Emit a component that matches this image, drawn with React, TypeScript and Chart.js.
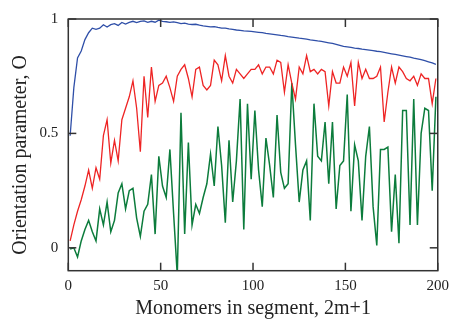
import React, { useEffect, useRef } from "react";
import { Chart, registerables } from "chart.js";

Chart.register(...registerables);

// x values: odd segment lengths 2m+1
const monomers = [
  1, 3, 5, 7, 9, 11, 13, 15, 17, 19, 21, 23, 25, 27, 29, 31, 33, 35, 37, 39, 41, 43, 45, 47, 49,
  51, 53, 55, 57, 59, 61, 63, 65, 67, 69, 71, 73, 75, 77, 79, 81, 83, 85, 87, 89, 91, 93, 95, 97, 99,
  101, 103, 105, 107, 109, 111, 113, 115, 117, 119, 121, 123, 125, 127, 129, 131, 133, 135, 137, 139, 141, 143, 145, 147, 149,
  151, 153, 155, 157, 159, 161, 163, 165, 167, 169, 171, 173, 175, 177, 179, 181, 183, 185, 187, 189, 191, 193, 195, 197, 199,
];

const blueValues = [
  0.49, 0.70, 0.83, 0.86, 0.91, 0.94, 0.96, 0.955, 0.96, 0.975, 0.965, 0.975, 0.98, 0.972, 0.985, 0.978, 0.985, 0.99, 0.984, 0.99, 0.992, 0.985, 0.99, 0.986, 0.995,
  0.99, 0.988, 0.985, 0.987, 0.984, 0.98, 0.982, 0.978, 0.976, 0.977, 0.973, 0.970, 0.968, 0.966, 0.967, 0.963, 0.960, 0.960, 0.957, 0.955, 0.952, 0.950, 0.948, 0.947, 0.946,
  0.944, 0.942, 0.940, 0.937, 0.935, 0.933, 0.931, 0.928, 0.926, 0.923, 0.921, 0.919, 0.916, 0.914, 0.912, 0.909, 0.907, 0.904, 0.902, 0.899, 0.896, 0.893, 0.889, 0.885, 0.880,
  0.878, 0.876, 0.873, 0.871, 0.868, 0.866, 0.864, 0.862, 0.859, 0.857, 0.854, 0.851, 0.848, 0.845, 0.842, 0.839, 0.836, 0.833, 0.829, 0.826, 0.822, 0.818, 0.813, 0.808, 0.802,
];

const redValues = [
  0.03, 0.10, 0.16, 0.21, 0.27, 0.34, 0.26, 0.35, 0.30, 0.49, 0.56, 0.37, 0.47, 0.38, 0.56, 0.61, 0.66, 0.73, 0.61, 0.42, 0.75, 0.57, 0.79, 0.64, 0.71,
  0.72, 0.75, 0.70, 0.64, 0.75, 0.78, 0.80, 0.74, 0.66, 0.78, 0.79, 0.71, 0.69, 0.71, 0.82, 0.80, 0.73, 0.84, 0.75, 0.72, 0.78, 0.76, 0.74, 0.76, 0.78,
  0.78, 0.80, 0.76, 0.79, 0.79, 0.76, 0.82, 0.81, 0.68, 0.80, 0.72, 0.65, 0.79, 0.76, 0.84, 0.77, 0.78, 0.76, 0.78, 0.77, 0.62, 0.77, 0.72, 0.72, 0.79,
  0.75, 0.81, 0.62, 0.81, 0.74, 0.78, 0.74, 0.74, 0.75, 0.79, 0.55, 0.68, 0.79, 0.72, 0.79, 0.77, 0.74, 0.73, 0.75, 0.71, 0.76, 0.74, 0.74, 0.63, 0.74,
];

const greenValues = [
  -0.005, 0.0, -0.04, 0.03, 0.08, 0.12, 0.07, 0.03, 0.17, 0.10, 0.20, 0.07, 0.12, 0.24, 0.28, 0.17, 0.25, 0.26, 0.13, 0.05, 0.16, 0.19, 0.32, 0.06, 0.40,
  0.27, 0.22, 0.43, 0.15, -0.12, 0.59, 0.06, 0.46, 0.10, 0.19, 0.15, 0.22, 0.28, 0.41, 0.27, 0.53, 0.36, 0.11, 0.47, 0.20, 0.38, 0.65, 0.08, 0.63, 0.30,
  0.60, 0.34, 0.18, 0.48, 0.36, 0.22, 0.58, 0.33, 0.26, 0.28, 0.72, 0.45, 0.20, 0.34, 0.38, 0.12, 0.63, 0.40, 0.38, 0.55, 0.28, 0.55, 0.17, 0.36, 0.38,
  0.67, 0.16, 0.45, 0.38, 0.12, 0.40, 0.53, 0.18, 0.01, 0.43, 0.43, 0.44, 0.07, 0.32, 0.02, 0.60, 0.60, 0.10, 0.65, 0.10, 0.50, 0.61, 0.60, 0.25, 0.66,
];

const xTickValues = [0, 50, 100, 150, 200];
const yTickValues = [0, 0.5, 1];
const xTitle = "Monomers in segment, 2m+1";
const yTitle = "Orientation parameter, O";

const FONT = '"Liberation Serif", "Times New Roman", serif';

const framePlugin = {
  id: "frame",
  afterDatasetsDraw(chart: any) {
    const { ctx, chartArea, scales } = chart;
    const { left, right, top, bottom } = chartArea;
    const x = scales.x;
    const y = scales.y;
    ctx.save();
    ctx.strokeStyle = "#333";
    ctx.lineWidth = 1.5;
    ctx.strokeRect(left, top, right - left, bottom - top);
    const seg = (a: number, b: number, c: number, d: number) => {
      ctx.beginPath();
      ctx.moveTo(a, b);
      ctx.lineTo(c, d);
      ctx.stroke();
    };
    const tl = 8;
    xTickValues.forEach((v) => {
      const px = x.getPixelForValue(v);
      seg(px, bottom, px, bottom - tl);
      seg(px, top, px, top + tl);
    });
    yTickValues.forEach((v) => {
      const py = y.getPixelForValue(v);
      seg(left, py, left + tl, py);
      seg(right, py, right - tl, py);
    });
    ctx.fillStyle = "#222";
    ctx.font = "20px " + FONT;
    ctx.textAlign = "center";
    ctx.textBaseline = "middle";
    ctx.fillText(xTitle, (left + right) / 2, bottom + 38);
    ctx.translate(left - 48, (top + bottom) / 2 + 10);
    ctx.rotate(-Math.PI / 2);
    ctx.fillText(yTitle, 0, 0);
    ctx.restore();
  },
};

export default function App() {
  const canvasRef = useRef<HTMLCanvasElement | null>(null);

  useEffect(() => {
    if (!canvasRef.current) return;
    const mk = (vals: number[]) => monomers.map((m, i) => ({ x: m, y: vals[i] }));
    const chart = new Chart(canvasRef.current, {
      type: "line",
      data: {
        datasets: [
          { data: mk(blueValues), borderColor: "#2f4fa8", borderWidth: 1.3, pointRadius: 0, tension: 0, fill: false },
          { data: mk(redValues), borderColor: "#ee2424", borderWidth: 1.3, pointRadius: 0, tension: 0, fill: false },
          { data: mk(greenValues), borderColor: "#0c7c3c", borderWidth: 1.5, pointRadius: 0, tension: 0, fill: false },
        ],
      },
      options: {
        responsive: false,
        animation: false,
        events: [],
        layout: { padding: { top: 14.3, right: 13.3, left: 0, bottom: 0 }, autoPadding: false },
        plugins: { legend: { display: false }, tooltip: { enabled: false } },
        scales: {
          x: {
            type: "linear",
            min: 0,
            max: 200,
            afterBuildTicks: (s: any) => {
              s.ticks = xTickValues.map((v) => ({ value: v }));
            },
            afterFit: (s: any) => {
              s.height = 49.3;
            },
            grid: { display: false, drawTicks: false },
            border: { display: false },
            ticks: {
              font: { family: FONT, size: 15 },
              color: "#222",
              padding: 6,
              maxRotation: 0,
              callback: (v: any) => String(v),
            },
          },
          y: {
            type: "linear",
            min: -0.1,
            max: 1,
            afterBuildTicks: (s: any) => {
              s.ticks = yTickValues.map((v) => ({ value: v }));
            },
            afterFit: (s: any) => {
              s.width = 68.3;
            },
            grid: { display: false, drawTicks: false },
            border: { display: false },
            ticks: {
              font: { family: FONT, size: 15 },
              color: "#222",
              padding: 10,
              callback: (v: any) => String(v),
            },
          },
        },
      },
      plugins: [framePlugin],
    } as any);
    return () => chart.destroy();
  }, []);

  return (
    <div style={{ position: "fixed", left: 0, top: 0, width: 455, height: 320, background: "#fff" }}>
      <canvas ref={canvasRef} width={455} height={320} />
    </div>
  );
}
